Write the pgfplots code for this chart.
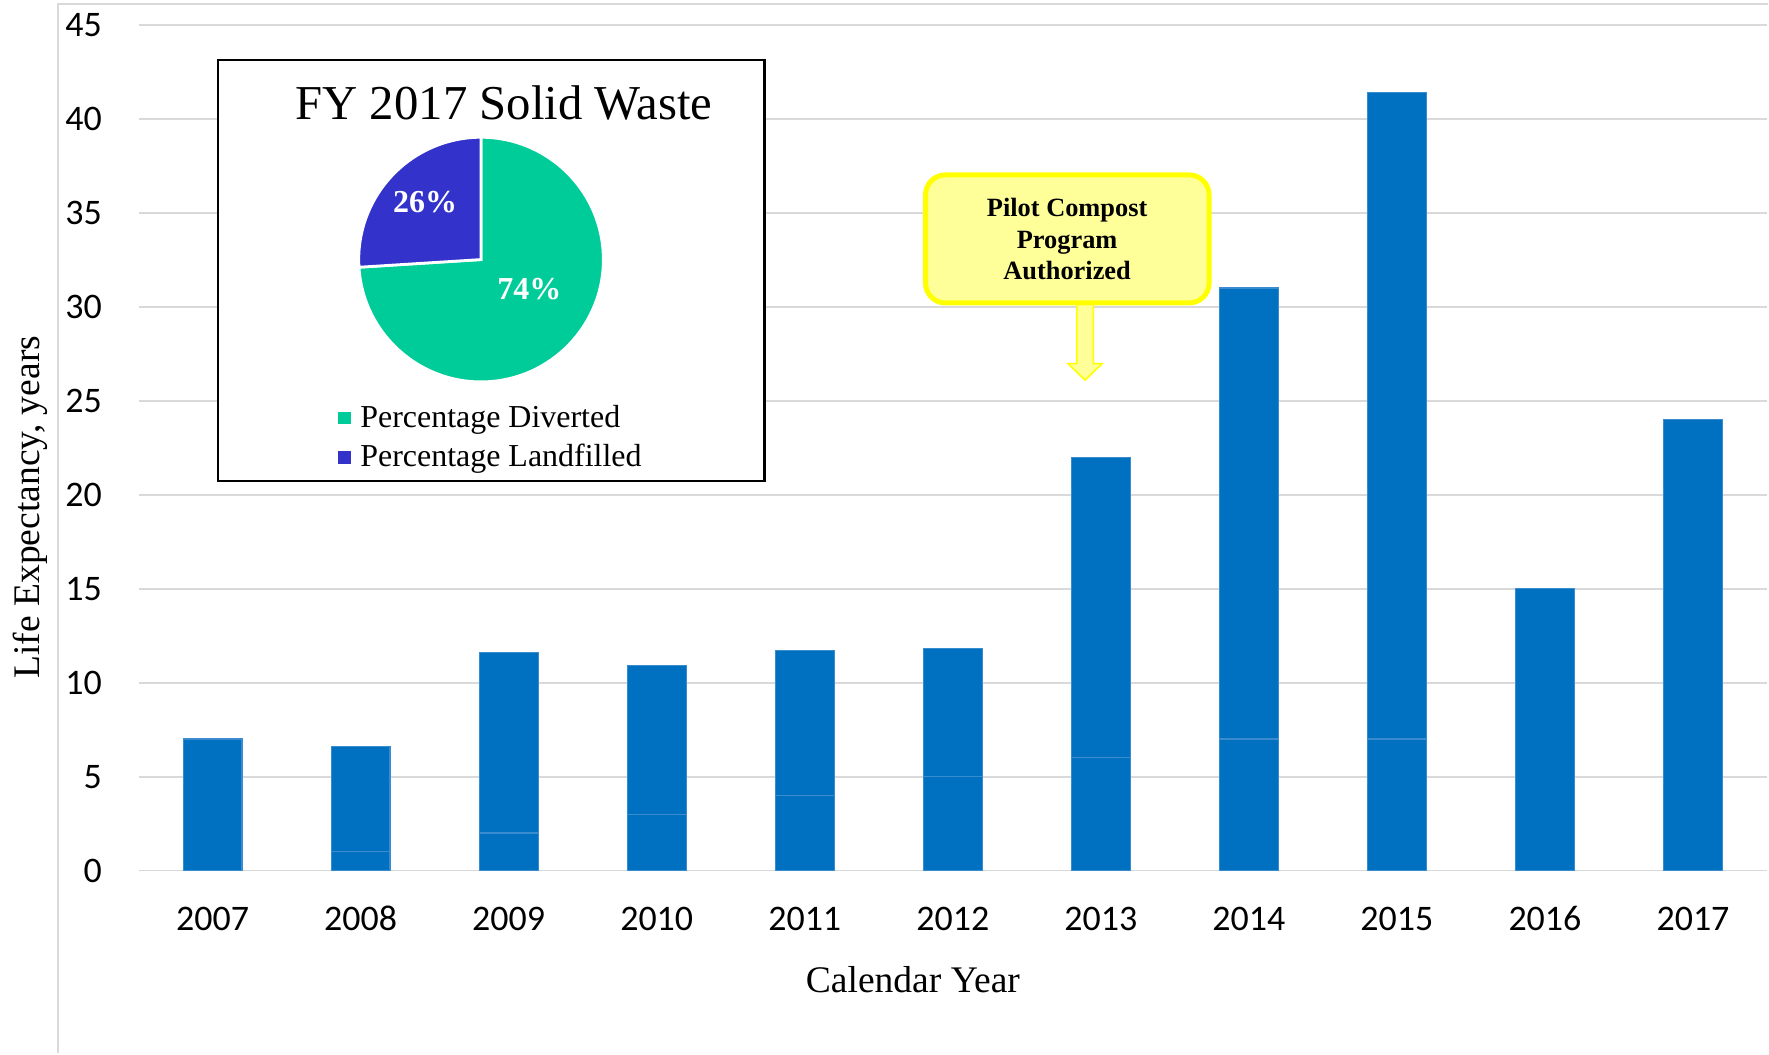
\documentclass[border=0pt]{standalone}
\usepackage{pgfplots}
\pgfplotsset{compat=1.18}
\usepackage{fontspec}
\setmainfont{Liberation Serif}
\newfontfamily\calib{Carlito}
\definecolor{cbar}{HTML}{0070C0}
\definecolor{cedge}{HTML}{3A8CCF}
\definecolor{cgrid}{HTML}{D9D9D9}
\definecolor{pgreen}{HTML}{00CC99}
\definecolor{pblue}{HTML}{3333CC}
\definecolor{cfill}{HTML}{FFFF99}
\definecolor{cyel}{HTML}{FFFF00}
\begin{document}
\begin{tikzpicture}
% whole picture, in reference pixels (top-left origin)
\begin{scope}[shift={(-34.25pt,218pt)},x=0.25pt,y=-0.25pt]
\path[use as bounding box] (0,0) rectangle (1769,1055);
\end{scope}
\begin{axis}[
  at={(0pt,0pt)}, anchor=south west,
  scale only axis, width=407.75pt, height=211.75pt,
  xmin=-0.5, xmax=10.5, ymin=0, ymax=45,
  ybar stacked, bar width=14.75pt,
  xtick={0,...,10},
  xticklabels={2007,2008,2009,2010,2011,2012,2013,2014,2015,2016,2017},
  ytick={0,5,...,45},
  ymajorgrids, major grid style={draw=cgrid, line width=0.45pt},
  axis line style={draw=none}, major tick length=0pt,
  tick label style={font=\calib\fontsize{9pt}{10.8pt}\selectfont},
  /pgf/number format/assume math mode=true,
  yticklabel style={anchor=east, inner sep=0pt, xshift=-9pt},
  xticklabel style={anchor=base, inner sep=0pt, yshift=-15pt},
  xlabel={Calendar Year}, ylabel={Life Expectancy, years},
  every axis x label/.style={at={(axis description cs:0.4755,-0.144)}, anchor=base, font=\fontsize{9.4pt}{11pt}\selectfont},
  every axis y label/.style={at={(axis description cs:-0.0607,0.4298)}, anchor=base, rotate=90, font=\fontsize{9.4pt}{11pt}\selectfont},
]
\addplot[fill=cbar, draw=cedge, line width=0.3pt] coordinates {(0,0) (1,1) (2,2) (3,3) (4,4) (5,5) (6,6) (7,7) (8,7) (9,0) (10,0)};
\addplot[fill=cbar, draw=cedge, line width=0.3pt] coordinates {(0,7) (1,5.6) (2,9.6) (3,7.9) (4,7.7) (5,6.8) (6,16) (7,24) (8,34.4) (9,15) (10,24)};
\end{axis}
\begin{scope}[shift={(-34.25pt,218pt)},x=0.25pt,y=-0.25pt]
% outer chart frame (partly cropped)
\draw[cgrid, line width=0.5pt] (56,1055) -- (56,4) -- (1769,4);
% pie inset
\draw[black, line width=0.6pt, fill=white] (216.6,60) rectangle (763.8,482);
\node[anchor=base, inner sep=0pt, font=\fontsize{12.2pt}{14pt}\selectfont] at (503,120) {FY 2017 Solid Waste};
\pgfmathsetmacro{\pland}{26}
\pgfmathsetmacro{\angB}{90+3.6*\pland}
\fill[pgreen, draw=white, line width=0.7pt] (480,260) -- +(\angB:30.625pt) arc[start angle=\angB, end angle=450, radius=30.625pt] -- cycle;
\fill[pblue, draw=white, line width=0.7pt] (480,260) -- +(90:30.625pt) arc[start angle=90, end angle=\angB, radius=30.625pt] -- cycle;
\node[anchor=base, inner sep=0pt, text=white, font=\bfseries\fontsize{8pt}{9pt}\selectfont] at (424,213.3) {26\%};
\node[anchor=base, inner sep=0pt, text=white, font=\bfseries\fontsize{8pt}{9pt}\selectfont] at (528.4,300) {74\%};
\fill[pgreen] (336.7,412.7) rectangle (349.3,425);
\fill[pblue] (336.7,451.7) rectangle (349.3,464.3);
\node[anchor=base west, inner sep=0pt, font=\fontsize{8pt}{9pt}\selectfont] at (358.3,428.3) {Percentage Diverted};
\node[anchor=base west, inner sep=0pt, font=\fontsize{8pt}{9pt}\selectfont] at (358.3,467.7) {Percentage Landfilled};
% callout
\draw[cyel, line width=0.4pt, fill=cfill] (1076.7,300) -- (1076.7,364.3) -- (1068,364.3) -- (1085,380.7) -- (1102,364.3) -- (1093.3,364.3) -- (1093.3,300) -- cycle;
\draw[cyel, line width=1.25pt, fill=cfill, rounded corners=5pt] (925.2,175.2) rectangle (1209.2,303.5);
\node[anchor=base, inner sep=0pt, font=\bfseries\fontsize{6.6pt}{8pt}\selectfont] at (1067,216.7) {Pilot Compost};
\node[anchor=base, inner sep=0pt, font=\bfseries\fontsize{6.6pt}{8pt}\selectfont] at (1067,249) {Program};
\node[anchor=base, inner sep=0pt, font=\bfseries\fontsize{6.6pt}{8pt}\selectfont] at (1067,280) {Authorized};
\end{scope}
\end{tikzpicture}
\end{document}
